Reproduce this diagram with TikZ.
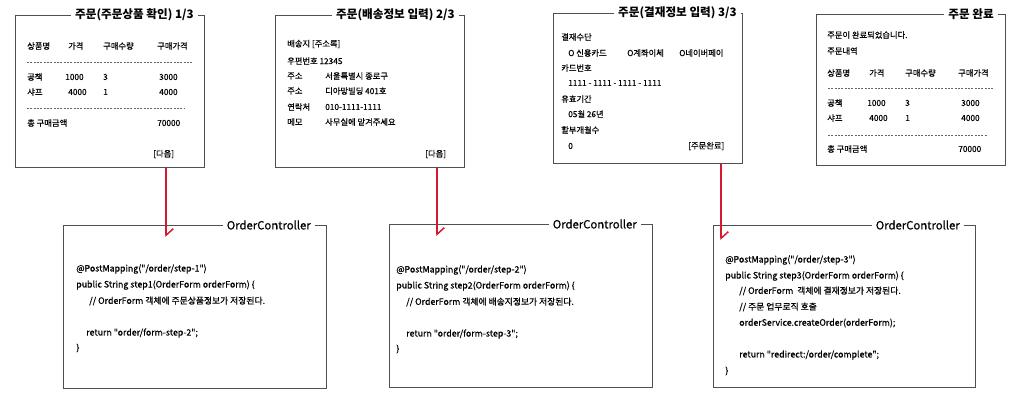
\documentclass[tikz,border=0pt]{standalone}
\usepackage{fontspec}
\setmainfont{Noto Sans CJK KR}
\newfontfamily\medfont{Noto Sans CJK KR}[FakeBold=0.6]
\usetikzlibrary{arrows.meta}

\definecolor{flowred}{RGB}{214,24,48}
\definecolor{framegray}{RGB}{80,80,80}
\def\px{0.75pt}

\tikzset{
  frame/.style={draw=framegray, line width=0.9pt, anchor=north west, inner sep=0pt},
  ttl/.style={fill=white, anchor=east, inner xsep=3pt, inner ysep=1pt, font=\bfseries\fontsize{8.7}{10}\selectfont},
  ctltitle/.style={fill=white, anchor=east, inner xsep=3pt, inner ysep=1pt, font=\medfont\fontsize{8.5}{10}\selectfont},
  txt/.style={anchor=west, inner sep=0pt, font=\medfont\fontsize{6.2}{7}\selectfont},
  code/.style={anchor=west, inner sep=0pt, font=\medfont\fontsize{6.6}{8}\selectfont},
  sep/.style={draw=black!60, dash pattern=on 1.5pt off 1pt, line width=0.4pt},
  flow/.style={draw=flowred, line width=1.1pt, -{Straight Barb[left, length=5pt, width=11pt]}},
}

\begin{document}
\begin{tikzpicture}[x=0.75pt, y=-0.75pt]
  \useasboundingbox (0,0) rectangle (1030,406);

  % ecran 1 : confirmation des articles
  \node[frame, minimum width=189*\px, minimum height=152*\px] (form1) at (15,15) {};
  \node[ttl] (title1) at (198,15) {주문(주문상품 확인) 1/3};
  \node[txt] (h11) at (27,46) {상품명};
  \node[txt] (h12) at (68,46) {가격};
  \node[txt] (h13) at (103,46) {구매수량};
  \node[txt] (h14) at (157,46) {구매가격};
  \draw[sep] (27,62) -- (192,62);
  \node[txt] (r11) at (27,77) {공책};
  \node[txt] (r12) at (65,77) {1000};
  \node[txt] (r13) at (103,77) {3};
  \node[txt] (r14) at (159,77) {3000};
  \node[txt] (r21) at (27,92) {샤프};
  \node[txt] (r22) at (68,92) {4000};
  \node[txt] (r23) at (103,92) {1};
  \node[txt] (r24) at (159,92) {4000};
  \draw[sep] (27,108) -- (185,108);
  \node[txt] (sum1) at (27,123) {총 구매금액};
  \node[txt] (tot1) at (157,123) {70000};
  \node[txt] (next1) at (153,154) {[다음]};

  % ecran 2 : livraison
  \node[frame, minimum width=189*\px, minimum height=152*\px] (form2) at (275,15) {};
  \node[ttl] (title2) at (459,15) {주문(배송정보 입력) 2/3};
  \node[txt] (ship) at (287,44) {배송지 [주소록]};
  \node[txt] (zip) at (287,61) {우편번호 12345};
  \node[txt] (addr1) at (287,76) {주소};
  \node[txt] (addr1v) at (325,76) {서울특별시 종로구};
  \node[txt] (addr2) at (287,91) {주소};
  \node[txt] (addr2v) at (325,91) {디아망빌딩 401호};
  \node[txt] (tel) at (287,107) {연락처};
  \node[txt] (telv) at (325,107) {010-1111-1111};
  \node[txt] (memo) at (287,122) {메모};
  \node[txt] (memov) at (325,122) {사무실에 맡겨주세요};
  \node[txt] (next2) at (425,154) {[다음]};

  % ecran 3 : paiement
  \node[frame, minimum width=189*\px, minimum height=150*\px] (form3) at (553,13) {};
  \node[ttl] (title3) at (741,13) {주문(결재정보 입력) 3/3};
  \node[txt] (pay) at (561,37) {결재수단};
  \node[txt] (pay1) at (568,53) {O 신용카드};
  \node[txt] (pay2) at (627,53) {O계좌이체};
  \node[txt] (pay3) at (679,53) {O네이버페이};
  \node[txt] (card) at (561,68) {카드번호};
  \node[txt] (cardv) at (568,83) {1111 - 1111 - 1111 - 1111};
  \node[txt] (exp) at (561,99) {유효기간};
  \node[txt] (expv) at (568,114) {05월 26년};
  \node[txt] (inst) at (561,130) {할부개월수};
  \node[txt] (instv) at (568,146) {0};
  \node[txt] (done3) at (688,146) {[주문완료]};

  % ecran 4 : commande terminee
  \node[frame, minimum width=189*\px, minimum height=151*\px] (form4) at (816,14) {};
  \node[ttl] (title4) at (998,14) {주문 완료};
  \node[txt] (msg) at (827,35) {주문이 완료되었습니다.};
  \node[txt] (list) at (827,51) {주문내역};
  \node[txt] (h41) at (827,73) {상품명};
  \node[txt] (h42) at (869,73) {가격};
  \node[txt] (h43) at (905,73) {구매수량};
  \node[txt] (h44) at (958,73) {구매가격};
  \draw[sep] (828,88) -- (994,88);
  \node[txt] (s11) at (827,103) {공책};
  \node[txt] (s12) at (867,103) {1000};
  \node[txt] (s13) at (905,103) {3};
  \node[txt] (s14) at (961,103) {3000};
  \node[txt] (s21) at (827,118) {샤프};
  \node[txt] (s22) at (869,118) {4000};
  \node[txt] (s23) at (905,118) {1};
  \node[txt] (s24) at (961,118) {4000};
  \draw[sep] (828,135) -- (987,135);
  \node[txt] (sum4) at (827,149) {총 구매금액};
  \node[txt] (tot4) at (958,149) {70000};

  % controleur, etape 1
  \node[frame, minimum width=263*\px, minimum height=163*\px] (ctl1) at (63,225) {};
  \node[ctltitle] (ctltitle1) at (315,225) {OrderController};
  \node[code] (c11) at (76,269) {@PostMapping("/order/step-1")};
  \node[code] (c12) at (76,285) {public String step1(OrderForm orderForm) \{};
  \node[code] (c13) at (89,301) {// OrderForm 객체에 주문상품정보가 저장된다.};
  \node[code] (c14) at (86,333) {return "order/form-step-2";};
  \node[code] (c15) at (76,348) {\}};

  % controleur, etape 2
  \node[frame, minimum width=263*\px, minimum height=163*\px] (ctl2) at (389,224) {};
  \node[ctltitle] (ctltitle2) at (641,224) {OrderController};
  \node[code] (c21) at (396,270) {@PostMapping("/order/step-2")};
  \node[code] (c22) at (396,286) {public String step2(OrderForm orderForm) \{};
  \node[code] (c23) at (406,302) {// OrderForm 객체에 배송지정보가 저장된다.};
  \node[code] (c24) at (406,334) {return "order/form-step-3";};
  \node[code] (c25) at (396,349) {\}};

  % controleur, etape 3
  \node[frame, minimum width=262*\px, minimum height=162*\px] (ctl3) at (713,225) {};
  \node[ctltitle] (ctltitle3) at (964,225) {OrderController};
  \node[code] (c31) at (725,260) {@PostMapping("/order/step-3")};
  \node[code] (c32) at (725,276) {public String step3(OrderForm orderForm) \{};
  \node[code] (c33) at (739,291) {// OrderForm\ \ 객체에 결재정보가 저장된다.};
  \node[code] (c34) at (739,307) {// 주문 업무로직 호출};
  \node[code] (c35) at (739,323) {orderService.createOrder(orderForm);};
  \node[code] (c36) at (739,355) {return "redirect:/order/complete";};
  \node[code] (c37) at (725,371) {\}};

  % fleches (submit -> controleur)
  \coordinate (in1) at (166,237);
  \coordinate (in2) at (437,236);
  \coordinate (in3) at (721,240);
  \draw[flow] (form1.south -| in1) -- (in1);
  \draw[flow] (form2.south -| in2) -- (in2);
  \draw[flow] (form3.south -| in3) -- (in3);
\end{tikzpicture}
\end{document}
